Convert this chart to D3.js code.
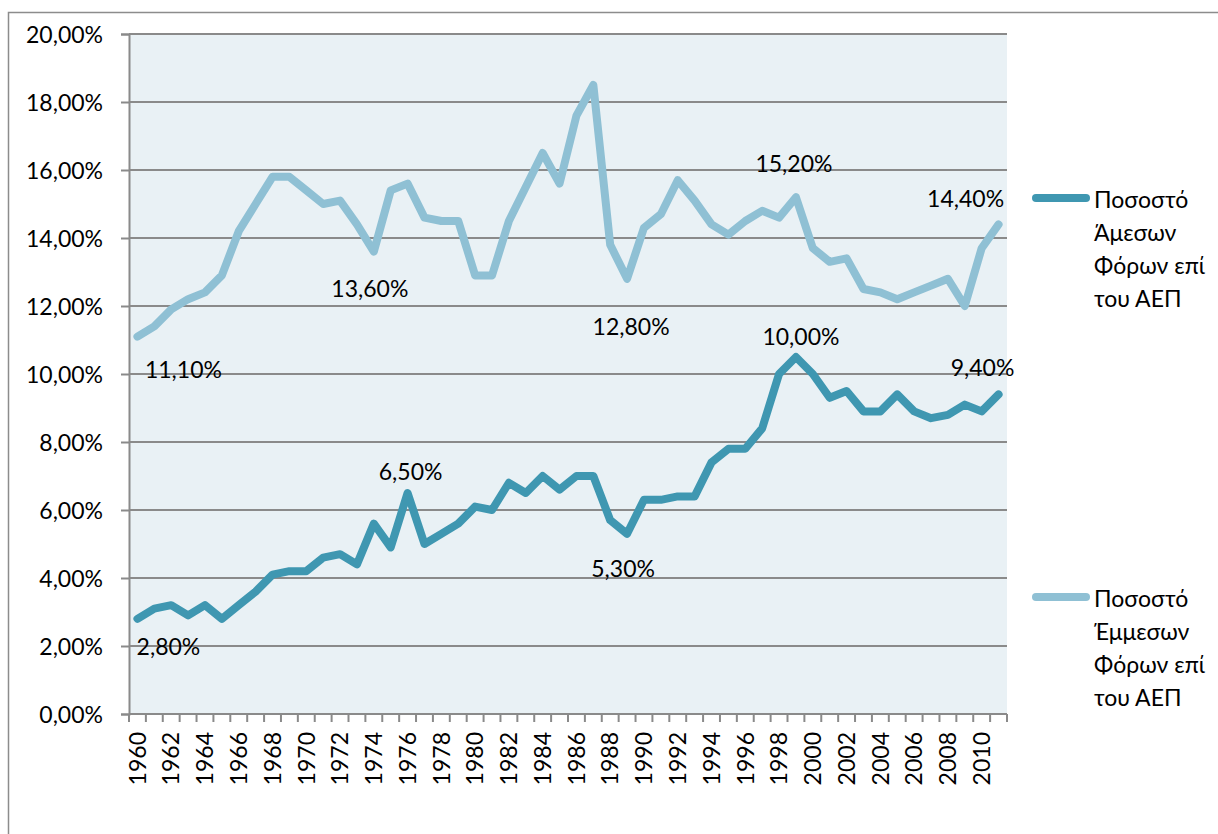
<!DOCTYPE html>
<html>
<head>
<script src="https://cdnjs.cloudflare.com/ajax/libs/d3/7.8.5/d3.min.js"></script>
  <meta charset="utf-8">
  <title>Φόροι ως ποσοστό του ΑΕΠ</title>
</head>
<style>

body {
  margin: 0;
  background: #fff;
}

svg text {
  font-family: Lato, "Open Sans", sans-serif;
  font-size: 23px;
  fill: #000;
}

</style>

<body>
<script>

var years = d3.range(1960, 2012);

// Ποσοστό Άμεσων Φόρων επί του ΑΕΠ (%)
var direct = [2.8, 3.1, 3.2, 2.9, 3.2, 2.8, 3.2, 3.6, 4.1, 4.2,
              4.2, 4.6, 4.7, 4.4, 5.6, 4.9, 6.5, 5.0, 5.3, 5.6,
              6.1, 6.0, 6.8, 6.5, 7.0, 6.6, 7.0, 7.0, 5.7, 5.3,
              6.3, 6.3, 6.4, 6.4, 7.4, 7.8, 7.8, 8.4, 10.0, 10.5,
              10.0, 9.3, 9.5, 8.9, 8.9, 9.4, 8.9, 8.7, 8.8, 9.1,
              8.9, 9.4];

// Ποσοστό Έμμεσων Φόρων επί του ΑΕΠ (%)
var indirect = [11.1, 11.4, 11.9, 12.2, 12.4, 12.9, 14.2, 15.0, 15.8, 15.8,
                15.4, 15.0, 15.1, 14.4, 13.6, 15.4, 15.6, 14.6, 14.5, 14.5,
                12.9, 12.9, 14.5, 15.5, 16.5, 15.6, 17.6, 18.5, 13.8, 12.8,
                14.3, 14.7, 15.7, 15.1, 14.4, 14.1, 14.5, 14.8, 14.6, 15.2,
                13.7, 13.3, 13.4, 12.5, 12.4, 12.2, 12.4, 12.6, 12.8, 12.0,
                13.7, 14.4];

var seriesNames = ["Ποσοστό Άμεσων Φόρων επί του ΑΕΠ", "Ποσοστό Έμμεσων Φόρων επί του ΑΕΠ"];
var legendLines = [["Ποσοστό", "Άμεσων", "Φόρων επί", "του ΑΕΠ"],
                   ["Ποσοστό", "Έμμεσων", "Φόρων επί", "του ΑΕΠ"]];

var yTicks = [0, 2, 4, 6, 8, 10, 12, 14, 16, 18, 20];

// data labels: which series, which year, what text
var labelSeries = [1, 1, 1, 1, 1, 0, 0, 0, 0, 0];
var labelYears  = [1960, 1974, 1989, 1999, 2011, 1960, 1976, 1989, 1999, 2011];
var labelTexts  = ["11,10%", "13,60%", "12,80%", "15,20%", "14,40%",
                   "2,80%", "6,50%", "5,30%", "10,00%", "9,40%"];

var config = {
  width: 1218,
  height: 834,
  plot: { left: 129, right: 1007, top: 34, bottom: 714 },
  colors: ["#3f97b1", "#8fc0d4"],
  plotBg: "#e9f1f5",
  grid: "#8a8a8a",
  // label offsets from the point, in px
  labelOffsets: [[46, 33], [-4, 37], [4, 48], [-2, -33], [-33, -26],
                 [31, 28], [3, -21], [-4, 35], [5, -20], [-16, -27]],
  legend: { x1: 1032, x2: 1090, tx: 1094, ys: [198, 597], lineH: 33 }
};

var gr = d3.formatLocale({ decimal: ",", thousands: ".", grouping: [3], currency: ["", "€"] });
var pct = gr.format(".2f");

var svg = d3.select("body").append("svg")
  .attr("width", config.width)
  .attr("height", config.height);

// outer chart frame
svg.append("path")
  .attr("d", "M8.5," + config.height + "V12.5H" + config.width)
  .attr("fill", "none")
  .attr("stroke", "#8c8c8c")
  .attr("stroke-width", 1.5);

var x = d3.scaleBand()
  .domain(years)
  .range([config.plot.left, config.plot.right]);

var y = d3.scaleLinear()
  .domain([0, 20])
  .range([config.plot.bottom, config.plot.top]);

var cx = function(yr) { return x(yr) + x.bandwidth() / 2; };

svg.append("rect")
  .attr("x", config.plot.left)
  .attr("y", config.plot.top)
  .attr("width", config.plot.right - config.plot.left)
  .attr("height", config.plot.bottom - config.plot.top)
  .attr("fill", config.plotBg);

// horizontal grid
svg.append("g")
  .selectAll("line").data(yTicks.slice(1)).enter().append("line")
  .attr("x1", config.plot.left)
  .attr("x2", config.plot.right)
  .attr("y1", function(d) { return y(d); })
  .attr("y2", function(d) { return y(d); })
  .attr("stroke", config.grid)
  .attr("stroke-width", 2);

// y axis
var yAxis = svg.append("g")
  .attr("transform", "translate(" + config.plot.left + ",0)")
  .call(d3.axisLeft(y).tickValues(yTicks).tickSize(8).tickPadding(18)
    .tickFormat(function(d) { return pct(d) + "%"; }));
yAxis.select(".domain").attr("stroke", config.grid).attr("stroke-width", 2);
yAxis.selectAll(".tick line").attr("stroke", config.grid).attr("stroke-width", 2);
yAxis.selectAll("text").attr("font-size", null).attr("font-family", null)
  .attr("dy", "0.36em");

// x axis: ticks at category boundaries, labels every 2nd year
var bounds = years.map(function(d) { return x(d); }).concat([config.plot.right]);
var xg = svg.append("g");
xg.append("line")
  .attr("x1", config.plot.left).attr("x2", config.plot.right)
  .attr("y1", config.plot.bottom).attr("y2", config.plot.bottom)
  .attr("stroke", config.grid).attr("stroke-width", 2);
xg.selectAll("line.tk").data(bounds).enter().append("line")
  .attr("class", "tk")
  .attr("x1", function(d) { return d; }).attr("x2", function(d) { return d; })
  .attr("y1", config.plot.bottom).attr("y2", config.plot.bottom + 8)
  .attr("stroke", config.grid).attr("stroke-width", 2);
xg.selectAll("text").data(years.filter(function(d) { return d % 2 === 0; })).enter().append("text")
  .attr("transform", function(d) { return "translate(" + cx(d) + "," + (config.plot.bottom + 18) + ") rotate(-90)"; })
  .attr("text-anchor", "end")
  .attr("dy", "0.36em")
  .text(function(d) { return d; });

// lines
var line = d3.line()
  .x(function(d, i) { return cx(years[i]); })
  .y(function(d) { return y(d); });

var series = [direct, indirect];

svg.append("g").selectAll("path").data(series).enter().append("path")
  .attr("d", line)
  .attr("fill", "none")
  .attr("stroke", function(d, i) { return config.colors[i]; })
  .attr("stroke-width", 8)
  .attr("stroke-linejoin", "round")
  .attr("stroke-linecap", "round");

// data labels
svg.append("g").selectAll("text").data(labelTexts).enter().append("text")
  .attr("x", function(d, i) { return cx(labelYears[i]) + config.labelOffsets[i][0]; })
  .attr("y", function(d, i) {
    var s = series[labelSeries[i]];
    return y(s[years.indexOf(labelYears[i])]) + config.labelOffsets[i][1];
  })
  .attr("text-anchor", "middle")
  .attr("dy", "0.36em")
  .text(function(d) { return d; });

// legend
var lg = svg.append("g").selectAll("g").data(seriesNames).enter().append("g");
lg.append("line")
  .attr("x1", config.legend.x1 + 4).attr("x2", config.legend.x2 - 4)
  .attr("y1", function(d, i) { return config.legend.ys[i]; })
  .attr("y2", function(d, i) { return config.legend.ys[i]; })
  .attr("stroke", function(d, i) { return config.colors[i]; })
  .attr("stroke-width", 8)
  .attr("stroke-linecap", "round");
lg.each(function(d, i) {
  d3.select(this).selectAll("text").data(legendLines[i]).enter().append("text")
    .attr("x", config.legend.tx)
    .attr("y", function(t, j) { return config.legend.ys[i] + 2 + j * config.legend.lineH; })
    .attr("dy", "0.36em")
    .text(function(t) { return t; });
});

</script>

</body>
</html>
